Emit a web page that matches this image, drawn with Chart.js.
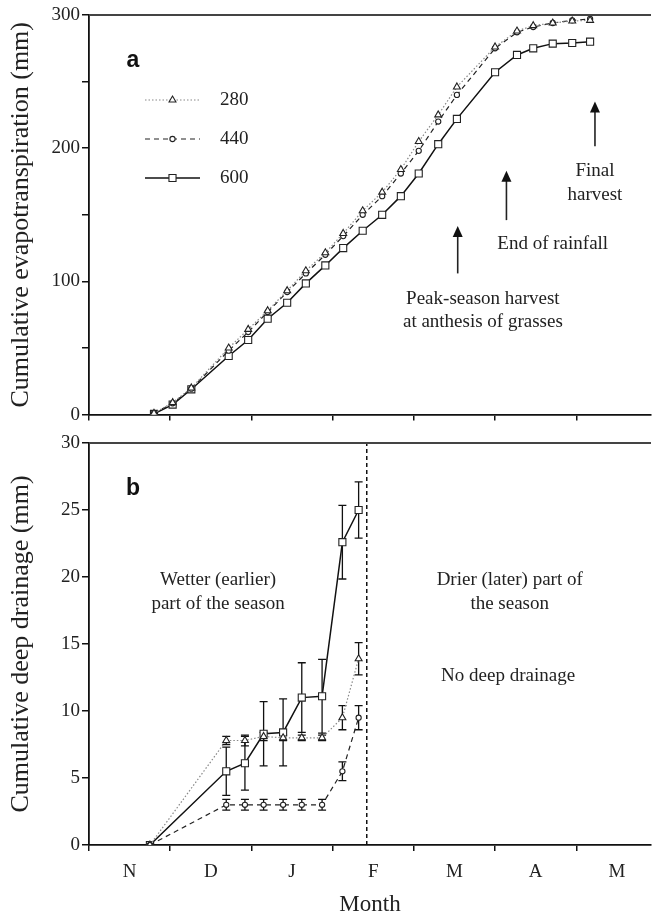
<!DOCTYPE html>
<html>
<head>
<meta charset="utf-8">
<script src="https://cdn.jsdelivr.net/npm/chart.js@4.4.0/dist/chart.umd.min.js"></script>
<style>
html, body { margin: 0; padding: 0; background: #fff; }
#wrap { position: relative; width: 652px; height: 920px; }
#etChart { position: absolute; left: 0; top: 0; }
#drainChart { position: absolute; left: 0; top: 428px; }
</style>
</head>
<body>
<div id="wrap">
  <canvas id="etChart" width="652" height="428"></canvas>
  <canvas id="drainChart" width="652" height="492"></canvas>
</div>
<script>
// x values are months since 1 November
const months = ['N', 'D', 'J', 'F', 'M', 'A', 'M'];

// panel a: cumulative evapotranspiration (mm)
const etDays = [0.80, 1.03, 1.26, 1.72, 1.96, 2.20, 2.44, 2.67, 2.91, 3.13, 3.37, 3.61, 3.84, 4.06, 4.30, 4.53, 5.00, 5.27, 5.47, 5.71, 5.95, 6.17];
const et280 = [1, 9, 20, 50, 64, 78, 93, 108, 121.5, 136, 153, 167, 184, 205, 225, 246, 276, 288, 292, 294, 295.5, 296];
const et440 = [1, 8.5, 19.5, 48, 62, 77, 92, 106, 120, 134, 150, 164, 181, 198, 220, 240, 275, 287, 291, 294, 296, 297];
const et600 = [0.5, 7.5, 19, 44, 56, 72, 84, 98.5, 112, 125, 138, 150, 164, 181, 203, 222, 257, 270, 275, 278.5, 279, 280];

// panel b: cumulative deep drainage (mm) with error bars
const drainDays = [0.75, 1.69, 1.92, 2.15, 2.39, 2.62, 2.87, 3.12, 3.32];
const dr280 = [0, 7.8, 7.8, 8.1, 8.0, 8.0, 8.0, 9.5, 13.9];
const dr280Err = [0, 0.3, 0.4, 0.3, 0.2, 0.2, 0.2, 0.9, 1.2];
const dr440 = [0, 3.0, 3.0, 3.0, 3.0, 3.0, 3.0, 5.5, 9.5];
const dr440Err = [0, 0.4, 0.4, 0.4, 0.4, 0.4, 0.4, 0.7, 0.9];
const dr600 = [0, 5.5, 6.1, 8.3, 8.4, 11.0, 11.1, 22.6, 25.0];
const dr600Err = [0, 1.8, 2.0, 2.4, 2.5, 2.6, 2.75, 2.75, 2.1];
const seasonSplit = 3.42;

const serif = '"Liberation Serif", "Times New Roman", serif';
const tickVals = months.flatMap((m, i) => [i, i + 0.5]);

const pts = (xs, ys) => xs.map((x, i) => ({ x: x, y: ys[i] }));

const style280 = { borderColor: '#888', borderWidth: 1.2, borderDash: [1.5, 2], pointStyle: 'triangle', pointRadius: 4 };
const style440 = { borderColor: '#222', borderWidth: 1.2, borderDash: [5, 4], pointStyle: 'circle', pointRadius: 2.6 };
const style600 = { borderColor: '#111', borderWidth: 1.5, borderDash: [], pointStyle: 'rect', pointRadius: 5 };
const pointCommon = { pointBackgroundColor: '#fff', pointBorderColor: '#222', pointBorderWidth: 1.1, tension: 0, fill: false };

function monthAxis(showLabels) {
  const tickCol = c => (c.tick && c.tick.value % 1 === 0) ? '#111' : 'rgba(0,0,0,0)';
  return {
    type: 'linear', min: 0, max: 6.92,
    // month boundaries carry the tick marks, mid-months carry the labels
    afterBuildTicks: s => { s.ticks = tickVals.map(v => ({ value: v })); },
    afterFit: s => {
      s.height = showLabels ? 75 : 9;
      s.paddingLeft = 0;
      s.paddingRight = 0;
    },
    grid: { drawOnChartArea: false, drawTicks: true, tickLength: 6, lineWidth: 1.5, color: tickCol, tickColor: tickCol },
    border: { color: '#111', width: 1.8 },
    ticks: {
      autoSkip: false, maxRotation: 0, padding: 10, color: '#222',
      font: { family: serif, size: 19 },
      callback: v => (showLabels && v % 1 === 0.5) ? months[Math.floor(v)] : ''
    },
    title: showLabels
      ? { display: true, text: 'Month', color: '#222', font: { family: serif, size: 23 }, padding: { top: 1, bottom: 1 } }
      : { display: false }
  };
}

function valueAxis(max, step, labelEvery, titleText) {
  return {
    type: 'linear', min: 0, max: max,
    afterFit: s => { s.width = 89; },
    grid: { drawOnChartArea: false, drawTicks: true, tickLength: 7, lineWidth: 1.5, color: '#111' },
    border: { color: '#111', width: 1.8 },
    ticks: {
      stepSize: step, padding: 2, color: '#222', font: { family: serif, size: 19 },
      callback: v => (v % labelEvery === 0) ? v : ''
    },
    title: { display: true, text: titleText, color: '#222', font: { family: serif, size: 26 }, padding: { top: 6, bottom: 0 } }
  };
}

// top border line of each panel
const frame = {
  id: 'frame',
  afterDraw(chart) {
    const { ctx, chartArea: a } = chart;
    ctx.save();
    ctx.strokeStyle = '#444';
    ctx.lineWidth = 2;
    ctx.beginPath();
    ctx.moveTo(a.left, a.top);
    ctx.lineTo(a.right, a.top);
    ctx.stroke();
    ctx.restore();
  }
};

const errorBars = {
  id: 'errorBars',
  beforeDatasetsDraw(chart) {
    const { ctx } = chart;
    const xs = chart.scales.x, ys = chart.scales.y;
    chart.data.datasets.forEach(ds => {
      if (!ds.errors) return;
      ctx.save();
      ctx.strokeStyle = '#111';
      ctx.lineWidth = 1.3;
      ds.data.forEach((p, i) => {
        const e = ds.errors[i];
        if (!e) return;
        const px = xs.getPixelForValue(p.x);
        const top = ys.getPixelForValue(p.y + e), bot = ys.getPixelForValue(p.y - e);
        ctx.beginPath();
        ctx.moveTo(px, top); ctx.lineTo(px, bot);
        ctx.moveTo(px - 4, top); ctx.lineTo(px + 4, top);
        ctx.moveTo(px - 4, bot); ctx.lineTo(px + 4, bot);
        ctx.stroke();
      });
      ctx.restore();
    });
  }
};

function drawNotes(chart, notes, arrows, panel) {
  const { ctx, chartArea: a } = chart;
  const xs = chart.scales.x, ys = chart.scales.y;
  ctx.save();
  ctx.fillStyle = '#222';
  ctx.textAlign = 'center';
  ctx.textBaseline = 'middle';
  ctx.font = `19px ${serif}`;
  notes.forEach(n => ctx.fillText(n.text, xs.getPixelForValue(n.x), ys.getPixelForValue(n.y)));
  arrows.forEach(ar => {
    const x = xs.getPixelForValue(ar.x);
    const y0 = ys.getPixelForValue(ar.from), y1 = ys.getPixelForValue(ar.to);
    ctx.strokeStyle = '#222';
    ctx.lineWidth = 1.6;
    ctx.beginPath(); ctx.moveTo(x, y0); ctx.lineTo(x, y1 + 9); ctx.stroke();
    ctx.fillStyle = '#111';
    ctx.beginPath(); ctx.moveTo(x, y1); ctx.lineTo(x - 5, y1 + 11); ctx.lineTo(x + 5, y1 + 11); ctx.closePath(); ctx.fill();
  });
  ctx.fillStyle = '#111';
  ctx.textAlign = 'center';
  ctx.font = `bold 23px "Liberation Sans", Arial, sans-serif`;
  ctx.fillText(panel, a.left + 44, a.top + 46);
  ctx.restore();
}

const etNotes = [
  { x: 6.23, y: 183, text: 'Final' },
  { x: 6.23, y: 165, text: 'harvest' },
  { x: 5.71, y: 128, text: 'End of rainfall' },
  { x: 4.85, y: 86.5, text: 'Peak-season harvest' },
  { x: 4.85, y: 69.5, text: 'at anthesis of grasses' }
];
const etArrows = [
  { x: 6.23, from: 201.5, to: 235 },
  { x: 5.14, from: 146, to: 183 },
  { x: 4.54, from: 106, to: 141.5 }
];
const drainNotes = [
  { x: 1.59, y: 19.75, text: 'Wetter (earlier)' },
  { x: 1.59, y: 18.0, text: 'part of the season' },
  { x: 5.18, y: 19.75, text: 'Drier (later) part of' },
  { x: 5.18, y: 18.0, text: 'the season' },
  { x: 5.16, y: 12.6, text: 'No deep drainage' }
];

const etLegend = {
  id: 'etLegend',
  afterDatasetsDraw(chart) {
    const { ctx, chartArea: a } = chart;
    chart.data.datasets.forEach((ds, i) => {
      const y = a.top + 85 + i * 39;
      const x0 = a.left + 56, x1 = a.left + 111;
      ctx.save();
      ctx.strokeStyle = ds.borderColor;
      ctx.lineWidth = ds.borderWidth;
      ctx.setLineDash(ds.borderDash || []);
      ctx.beginPath(); ctx.moveTo(x0, y); ctx.lineTo(x1, y); ctx.stroke();
      ctx.setLineDash([]);
      ctx.fillStyle = '#fff';
      ctx.strokeStyle = '#222';
      ctx.lineWidth = 1.1;
      Chart.helpers.drawPoint(ctx, { pointStyle: ds.pointStyle, radius: ds.pointRadius, rotation: 0, borderWidth: 1.1 }, (x0 + x1) / 2, y);
      ctx.fillStyle = '#222';
      ctx.font = `19px ${serif}`;
      ctx.textAlign = 'left';
      ctx.textBaseline = 'middle';
      ctx.fillText(ds.label, a.left + 131, y);
      ctx.restore();
    });
  }
};

new Chart(document.getElementById('etChart'), {
  type: 'line',
  data: {
    datasets: [
      { label: '280', data: pts(etDays, et280), ...style280, ...pointCommon },
      { label: '440', data: pts(etDays, et440), ...style440, ...pointCommon },
      { label: '600', data: pts(etDays, et600), ...style600, ...pointCommon }
    ]
  },
  options: {
    responsive: false, devicePixelRatio: 1, animation: false, events: [],
    layout: { autoPadding: false, padding: { top: 15, right: 1, left: 0, bottom: 0 } },
    plugins: { legend: { display: false }, tooltip: { enabled: false } },
    scales: {
      x: monthAxis(false),
      y: valueAxis(300, 50, 100, 'Cumulative evapotranspiration (mm)')
    }
  },
  plugins: [frame, etLegend, { id: 'etNotes', afterDraw: c => drawNotes(c, etNotes, etArrows, 'a') }]
});

new Chart(document.getElementById('drainChart'), {
  type: 'line',
  data: {
    datasets: [
      { label: '280', data: pts(drainDays, dr280), errors: dr280Err, ...style280, ...pointCommon },
      { label: '440', data: pts(drainDays, dr440), errors: dr440Err, ...style440, ...pointCommon },
      { label: '600', data: pts(drainDays, dr600), errors: dr600Err, ...style600, ...pointCommon },
      { label: 'split', data: [{ x: seasonSplit, y: 0 }, { x: seasonSplit, y: 30 }], borderColor: '#111', borderWidth: 1.5, borderDash: [4, 3], pointRadius: 0 }
    ]
  },
  options: {
    responsive: false, devicePixelRatio: 1, animation: false, events: [],
    layout: { autoPadding: false, padding: { top: 15, right: 1, left: 0, bottom: 0 } },
    plugins: { legend: { display: false }, tooltip: { enabled: false } },
    scales: {
      x: monthAxis(true),
      y: valueAxis(30, 5, 5, 'Cumulative deep drainage (mm)')
    }
  },
  plugins: [frame, errorBars, { id: 'drainNotes', afterDraw: c => drawNotes(c, drainNotes, [], 'b') }]
});
</script>
</body>
</html>
